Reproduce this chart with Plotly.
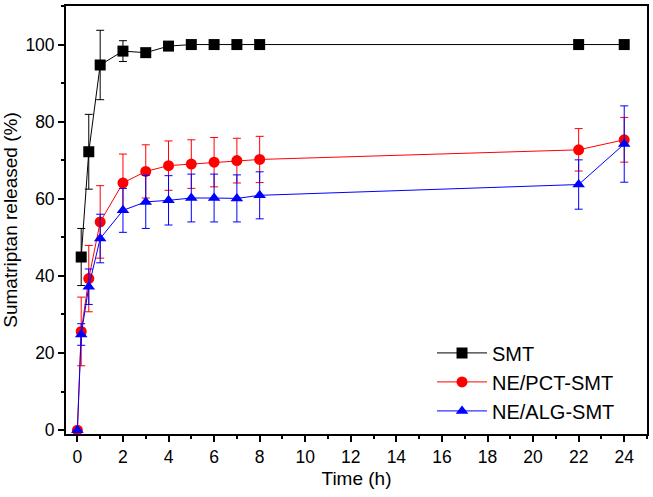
import plotly.graph_objects as go

time_smt = [0.167, 0.5, 1, 2, 3, 4, 5, 6, 7, 8, 22, 24]
smt = [44.9, 72.2, 94.7, 98.3, 97.9, 99.6, 100, 100, 100, 100, 100, 100]
smt_err = [7.4, 9.7, 9.0, 2.7, 0, 0, 0, 0, 0, 0, 0, 0]

time = [0, 0.167, 0.5, 1, 2, 3, 4, 5, 6, 7, 8, 22, 24]
pct = [0, 25.6, 39.3, 54.0, 64.1, 67.1, 68.6, 69.0, 69.5, 69.9, 70.2, 72.7, 75.3]
pct_err = [0, 8.9, 8.6, 9.4, 7.5, 6.9, 6.4, 6.3, 6.4, 5.8, 6.0, 5.5, 5.8]
alg = [0, 24.8, 37.2, 49.7, 57.0, 59.2, 59.6, 60.2, 60.2, 60.1, 60.9, 63.7, 74.2]
alg_err = [0, 2.8, 4.6, 6.3, 5.7, 6.9, 6.4, 6.2, 6.2, 6.1, 6.1, 6.4, 9.9]

names = ["SMT", "NE/PCT-SMT", "NE/ALG-SMT"]
colors = ["#000000", "#FF0000", "#0000FF"]
symbols = ["square", "circle", "triangle-up"]

FONT = "Arial, Liberation Sans, sans-serif"

fig = go.Figure()
series = [(time_smt, smt, smt_err), (time, pct, pct_err), (time, alg, alg_err)]
for (x, y, e), name, c, s in zip(series, names, colors, symbols):
    fig.add_trace(go.Scatter(
        x=x, y=y, name=name, mode="lines+markers",
        line=dict(color=c, width=1),
        marker=dict(symbol=s, size=11, color=c, line=dict(width=0)),
        error_y=dict(type="data", array=e, visible=True, color=c, thickness=1, width=4),
    ))

axis_common = dict(
    showline=True, linecolor="black", linewidth=1.8, mirror=True,
    ticks="outside", ticklen=6, tickwidth=1.5, tickcolor="black",
    showgrid=False, zeroline=False,
    tickfont=dict(family=FONT, size=17.5, color="black"),
)

fig.update_layout(
    width=653, height=497, autosize=False,
    margin=dict(l=63, r=4, t=4, b=63),
    paper_bgcolor="white", plot_bgcolor="white",
    font=dict(family=FONT, color="black"),
    xaxis=dict(
        range=[-0.5, 25], tickmode="linear", tick0=0, dtick=2,
        minor=dict(ticks="outside", ticklen=3, tickwidth=1.5, tickcolor="black", dtick=1, tick0=0, showgrid=False),
        title=dict(text="Time (h)", font=dict(family=FONT, size=19), standoff=6),
        **axis_common,
    ),
    yaxis=dict(
        range=[-1, 110], tickmode="linear", tick0=0, dtick=20,
        minor=dict(ticks="outside", ticklen=3, tickwidth=1.5, tickcolor="black", dtick=10, tick0=0, showgrid=False),
        title=dict(text="Sumatriptan released (%)", font=dict(family=FONT, size=19), standoff=8),
        **axis_common,
    ),
    legend=dict(
        x=0.63, y=0.235, xanchor="left", yanchor="top",
        bgcolor="rgba(0,0,0,0)", borderwidth=0,
        font=dict(family=FONT, size=20, color="black"),
        tracegroupgap=0, itemwidth=50,
    ),
    showlegend=True,
)

fig.write_html(
    "out.html",
    config={"displayModeBar": False},
    post_script="document.body.style.margin='0';document.body.style.padding='0';",
)
